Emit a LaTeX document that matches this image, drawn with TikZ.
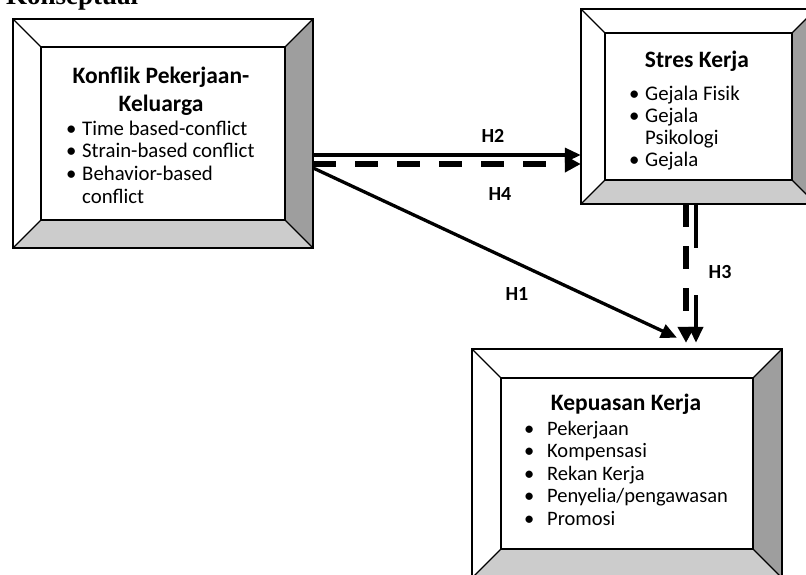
\documentclass[tikz,border=0pt]{standalone}
\usepackage{fontspec}
\setmainfont{Carlito}
\newfontfamily\serifhead{Liberation Serif}
\usetikzlibrary{arrows.meta}
\definecolor{bevdark}{gray}{0.62}
\definecolor{bevlight}{gray}{0.80}

% name, left, top, right, bottom, bevel (y measured downwards)
\newcommand{\bevelbox}[6]{%
  \node[minimum width={#4-#2}, minimum height={#5-#3}, inner sep=0pt]
       (#1) at ({(#2+#4)/2},{-(#3+#5)/2}) {};
  \fill[white] (#2,-#3) rectangle (#4,-#5);
  \fill[bevdark] (#4,-#3) -- (#4,-#5) -- (#4-#6,-#5+#6) -- (#4-#6,-#3-#6) -- cycle;
  \fill[bevlight] (#2,-#5) -- (#4,-#5) -- (#4-#6,-#5+#6) -- (#2+#6,-#5+#6) -- cycle;
  \draw[line width=2.2pt] (#2,-#3) rectangle (#4,-#5);
  \draw[line width=2pt] (#2+#6,-#3-#6) rectangle (#4-#6,-#5+#6);
  \draw[line width=1.1pt] (#2,-#3) -- (#2+#6,-#3-#6)  (#4,-#3) -- (#4-#6,-#3-#6)
                          (#2,-#5) -- (#2+#6,-#5+#6)  (#4,-#5) -- (#4-#6,-#5+#6);
}

\begin{document}
\begin{tikzpicture}[x=1pt, y=1pt,
    head/.style={inner sep=0pt, anchor=base,
                 font=\bfseries\fontsize{23.5}{28}\selectfont},
    listtext/.style={inner sep=0pt, anchor=base west,
                     font=\fontsize{20.8}{22.7}\selectfont},
    harrow/.style={line width=3.3pt, -{Triangle[length=16pt, width=14pt]}},
    hdash/.style={line width=5.5pt, dash pattern=on 23pt off 19pt,
                  -{Triangle[length=16pt, width=16pt]}},
    hlabel/.style={inner sep=0pt, anchor=base,
                   font=\bfseries\fontsize{20}{22}\selectfont}]
    \useasboundingbox (0,0) rectangle (806,-574);
    \clip (0,0) rectangle (806,-574);

    \node[inner sep=0pt, anchor=base west,
          font=\serifhead\bfseries\fontsize{27}{30}\selectfont] (judul) at (6,-4) {Konseptual};

    \bevelbox{konflik}{13}{19}{313}{248}{28}
    \bevelbox{stres}{581}{9}{816}{204}{24}
    \bevelbox{kepuasan}{472}{349}{782}{578}{29}

    \node[head] (konflik-t) at (161,-83)
        {\begin{tabular}[t]{@{}c@{}}Konflik Pekerjaan-\\Keluarga\end{tabular}};
    \node[listtext] (konflik-l) at (66,-135)
        {\begin{tabular}[t]{@{}p{16pt}@{}l@{}}
          \textbullet & Time based-conflict\\
          \textbullet & Strain-based conflict\\
          \textbullet & Behavior-based\\
                      & conflict
         \end{tabular}};

    \node[head] (stres-t) at (697,-67) {Stres Kerja};
    \node[listtext, font=\fontsize{20.8}{22.3}\selectfont] (stres-l) at (629,-100)
        {\begin{tabular}[t]{@{}p{16pt}@{}l@{}}
          \textbullet & Gejala Fisik\\
          \textbullet & Gejala\\
                      & Psikologi\\
          \textbullet & Gejala
         \end{tabular}};

    \node[head] (kepuasan-t) at (626,-410) {Kepuasan Kerja};
    \node[listtext, font=\fontsize{20.5}{22.5}\selectfont] (kepuasan-l) at (524,-435)
        {\begin{tabular}[t]{@{}p{23pt}@{}l@{}}
          \textbullet & Pekerjaan\\
          \textbullet & Kompensasi\\
          \textbullet & Rekan Kerja\\
          \textbullet & Penyelia/pengawasan\\
          \textbullet & Promosi
         \end{tabular}};

    \draw[harrow] ([yshift=-21.5pt]konflik.east) -- ([yshift=-48.5pt]stres.west);
    \draw[hdash]  ([yshift=-30.5pt]konflik.east) -- ([yshift=-57.5pt]stres.west);
    \draw[harrow] ([yshift=-34.5pt]konflik.east) -- ([xshift=50pt, yshift=11pt]kepuasan.north);
    \draw[hdash]  ([xshift=-12.5pt]stres.south) -- ([xshift=59pt, yshift=6pt]kepuasan.north);
    \draw[harrow, line width=4pt] ([xshift=-2.5pt]stres.south) -- ([xshift=69pt, yshift=6pt]kepuasan.north);

    \node[hlabel] (h2) at (493,-142) {H2};
    \node[hlabel] (h4) at (500,-200) {H4};
    \node[hlabel] (h1) at (517,-300) {H1};
    \node[hlabel, fill=white, minimum width=52pt, minimum height=47pt] (h3) at (720,-278) {H3};
\end{tikzpicture}
\end{document}
